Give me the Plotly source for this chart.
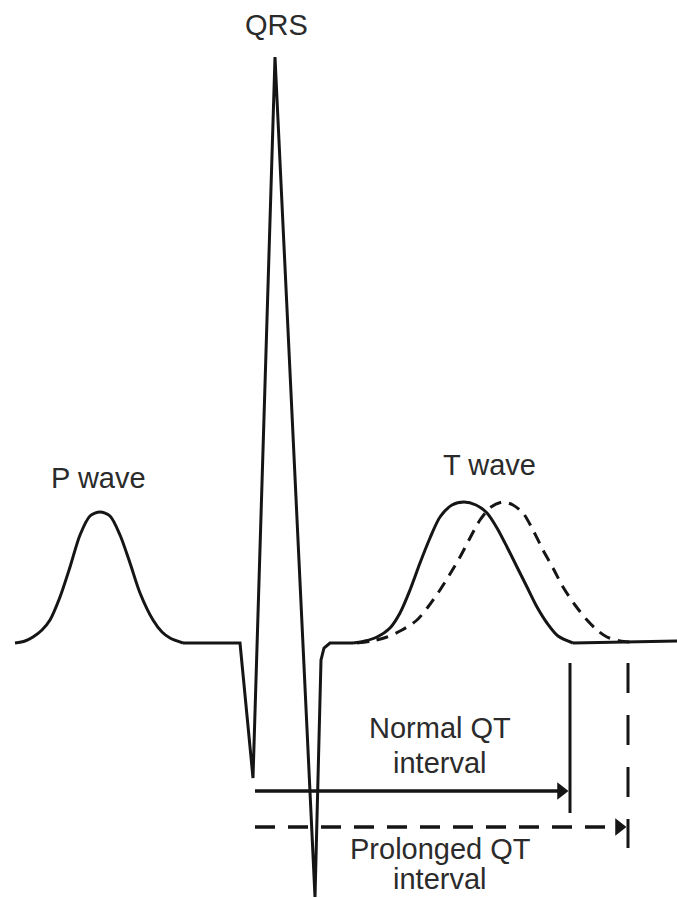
import plotly.graph_objects as go

# ---- data (picture coordinates, y grows downward) ----
p_wave_x = [15, 25, 33, 42, 50, 60, 70, 80, 90, 100, 110, 120, 130, 140, 153, 162, 170, 183]
p_wave_y = [643, 641, 637, 630, 620, 597, 567, 535, 516, 512, 516, 535, 563, 593, 620, 632, 638, 643]

qrs_x = [183, 240, 253, 275, 315, 321, 324, 330, 353]
qrs_y = [643, 643, 778, 57, 897, 660, 648, 643, 643]

t_normal_x = [353, 365, 377, 390, 400, 410, 420, 430, 440, 452, 464, 476, 487, 497, 507, 517, 527, 537, 547, 558, 573]
t_normal_y = [643, 641, 637, 628, 613, 590, 563, 538, 517, 505, 502, 505, 513, 528, 547, 567, 587, 607, 623, 636, 643]

tail_x = [573, 677]
tail_y = [643, 641]

t_long_x = [357, 372, 387, 402, 417, 428, 440, 450, 460, 470, 480, 491, 503, 513, 523, 533, 543, 553, 563, 575, 587, 597, 607, 620, 630]
t_long_y = [643, 641, 637, 630, 620, 607, 590, 574, 557, 538, 520, 507, 502, 505, 513, 530, 550, 568, 587, 605, 620, 630, 637, 641, 642]

qt_start = 255
qt_normal_end = 570
qt_long_end = 628
qt_normal_y = 791
qt_long_y = 827
marker_top = 663
normal_marker_bottom = 813
long_marker_bottom = 848

labels = ["P wave", "QRS", "T wave", "Normal QT", "interval", "Prolonged QT", "interval"]
label_x = [98, 276, 489, 440, 440, 440, 440]
label_y = [478, 25, 465, 728, 763, 849, 879]

ink = "#151515"
fig = go.Figure()

fig.add_trace(go.Scatter(x=p_wave_x, y=p_wave_y, mode="lines",
                         line=dict(color=ink, width=3, shape="spline", smoothing=0.8)))
fig.add_trace(go.Scatter(x=qrs_x, y=qrs_y, mode="lines",
                         line=dict(color=ink, width=3)))
fig.add_trace(go.Scatter(x=t_long_x, y=t_long_y, mode="lines",
                         line=dict(color=ink, width=3, shape="spline", smoothing=0.8, dash="12px,8px")))
fig.add_trace(go.Scatter(x=t_normal_x, y=t_normal_y, mode="lines",
                         line=dict(color=ink, width=3, shape="spline", smoothing=0.8)))
fig.add_trace(go.Scatter(x=tail_x, y=tail_y, mode="lines",
                         line=dict(color=ink, width=3)))

# QT markers (vertical bars)
fig.add_trace(go.Scatter(x=[qt_normal_end, qt_normal_end], y=[marker_top, normal_marker_bottom],
                         mode="lines", line=dict(color=ink, width=3)))
fig.add_trace(go.Scatter(x=[qt_long_end, qt_long_end], y=[marker_top, long_marker_bottom],
                         mode="lines", line=dict(color=ink, width=3, dash="30px,22px")))

# QT arrows
fig.add_trace(go.Scatter(x=[qt_start, qt_normal_end - 6], y=[qt_normal_y, qt_normal_y],
                         mode="lines", line=dict(color=ink, width=3.5)))
fig.add_trace(go.Scatter(x=[qt_start, qt_long_end - 6], y=[qt_long_y, qt_long_y],
                         mode="lines", line=dict(color=ink, width=3.5, dash="20px,13px")))
fig.add_trace(go.Scatter(x=[qt_normal_end - 9, qt_long_end - 9], y=[qt_normal_y, qt_long_y],
                         mode="markers",
                         marker=dict(symbol="triangle-right", size=15, color=ink)))

for t, x, y in zip(labels, label_x, label_y):
    fig.add_annotation(x=x, y=y, text=t, showarrow=False, xanchor="center", yanchor="middle",
                       font=dict(family="Liberation Sans, Arial, sans-serif", size=29, color="#2b2b2b"))

fig.update_layout(
    width=677, height=898,
    margin=dict(l=0, r=0, t=0, b=0),
    paper_bgcolor="white", plot_bgcolor="white",
    showlegend=False,
    xaxis=dict(range=[0, 677], visible=False, fixedrange=True),
    yaxis=dict(range=[898, 0], visible=False, fixedrange=True),
)

fig.write_html("out.html", config={"displayModeBar": False},
               post_script="document.body.style.margin='0';document.body.style.overflow='hidden';")
